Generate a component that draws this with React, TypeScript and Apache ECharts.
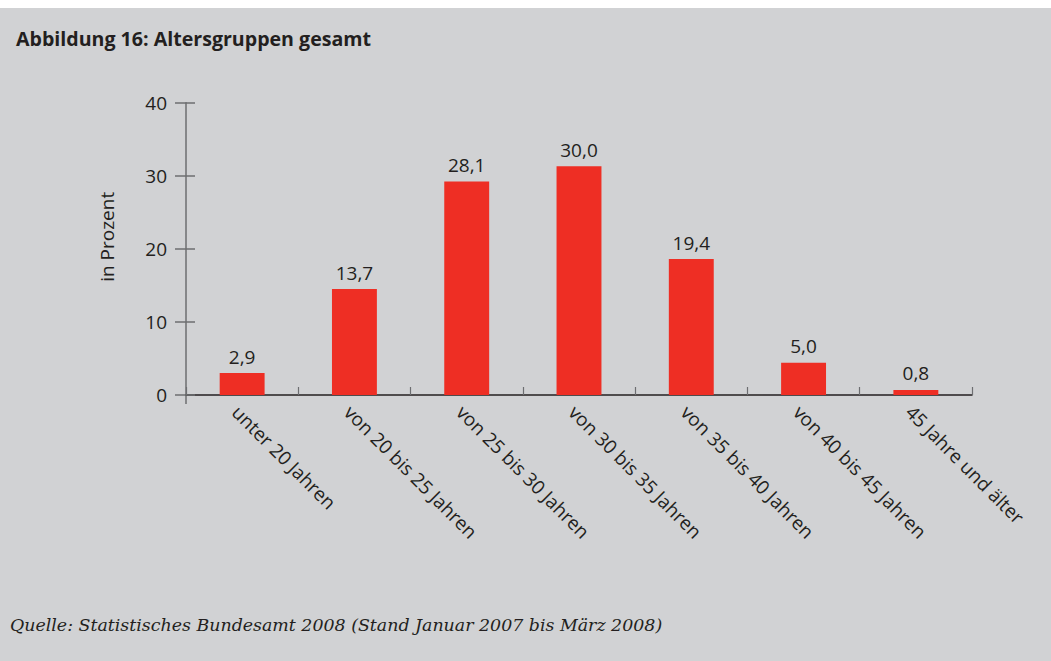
import React, { useEffect, useRef } from "react";
import * as echarts from "echarts";

const categories = [
  "unter 20 Jahren",
  "von 20 bis 25 Jahren",
  "von 25 bis 30 Jahren",
  "von 30 bis 35 Jahren",
  "von 35 bis 40 Jahren",
  "von 40 bis 45 Jahren",
  "45 Jahre und älter",
];
// bar heights as drawn in the picture
const barValues = [3.0, 14.5, 29.2, 31.3, 18.6, 4.4, 0.7];
// value labels as printed above the bars
const valueLabels = ["2,9", "13,7", "28,1", "30,0", "19,4", "5,0", "0,8"];
const yTicks = [0, 10, 20, 30, 40];

const titleText = "Abbildung 16: Altersgruppen gesamt";
const sourceText = "Quelle: Statistisches Bundesamt 2008 (Stand Januar 2007 bis März 2008)";
const yAxisName = "in Prozent";

const FONT = "'Open Sans', 'Noto Sans', sans-serif";
const TEXT = "#231f20";
const GRAY = "#6d6e71";
const RED = "#ee2e24";

export default function App() {
  const ref = useRef<HTMLDivElement>(null);
  useEffect(() => {
    document.body.style.margin = "0";
    if (!ref.current) return;
    const chart = echarts.init(ref.current, undefined, { renderer: "svg" });
    chart.setOption({
      animation: false,
      backgroundColor: "#d1d2d4",
      title: {
        text: titleText,
        left: 11,
        top: 15,
        textStyle: { fontFamily: FONT, fontSize: 19.6, fontWeight: "bold", color: TEXT },
      },
      graphic: [
        {
          type: "text",
          left: 10,
          top: 608,
          style: {
            text: sourceText,
            font: "italic 17.4px 'DejaVu Serif', serif",
            fill: TEXT,
          },
        },
        {
          type: "line",
          shape: { x1: 186, y1: 387, x2: 186, y2: 396 },
          style: { stroke: GRAY, lineWidth: 1.5 },
        },
      ],
      grid: { left: 186, right: 79, top: 94.7, bottom: 266, containLabel: false },
      xAxis: {
        type: "category",
        data: categories,
        axisLine: { show: true, lineStyle: { color: TEXT, width: 1.5 } },
        axisTick: { show: true, inside: true, length: 8, lineStyle: { color: GRAY, width: 1.2 } },
        axisLabel: {
          rotate: -45,
          interval: 0,
          align: "left",
          verticalAlign: "top",
          margin: 7,
          fontFamily: FONT,
          fontSize: 19,
          color: TEXT,
        },
      },
      yAxis: [
        {
          type: "value",
          min: yTicks[0],
          max: yTicks[yTicks.length - 1],
          interval: 10,
          name: yAxisName,
          nameLocation: "middle",
          nameRotate: 90,
          nameGap: 70,
          nameTextStyle: { fontFamily: FONT, fontSize: 19, color: TEXT, padding: [0, 0, 0, 24] },
          axisLine: { show: true, lineStyle: { color: GRAY, width: 1.5 } },
          axisTick: { show: true, length: 11, lineStyle: { color: GRAY, width: 1.5 } },
          axisLabel: { margin: 19, fontFamily: FONT, fontSize: 19, color: TEXT },
          splitLine: { show: false },
        },
        {
          type: "value",
          position: "left",
          min: yTicks[0],
          max: yTicks[yTicks.length - 1],
          interval: 10,
          axisLine: { show: false },
          axisTick: { show: true, inside: true, length: 9, lineStyle: { color: GRAY, width: 1.5 } },
          axisLabel: { show: false },
          splitLine: { show: false },
        },
      ],
      series: [
        {
          type: "bar",
          data: barValues,
          barWidth: "40%",
          itemStyle: { color: RED },
          label: {
            show: true,
            position: "top",
            distance: 7,
            fontFamily: FONT,
            fontSize: 19,
            color: TEXT,
            formatter: (p: any) => valueLabels[p.dataIndex],
          },
        },
      ],
    });
    return () => chart.dispose();
  }, []);
  return (
    <div style={{ position: "absolute", left: 0, top: 0, width: 1051, height: 661, background: "#fff" }}>
      <div ref={ref} style={{ position: "absolute", left: 0, top: 8, width: 1051, height: 653 }} />
    </div>
  );
}
